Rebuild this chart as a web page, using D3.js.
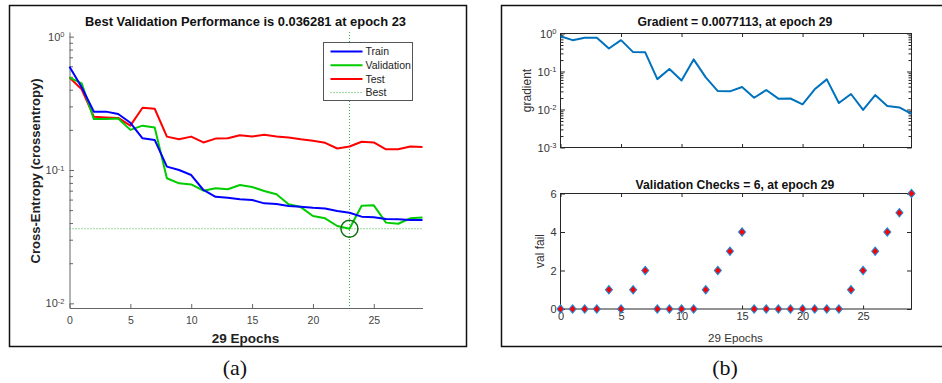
<!DOCTYPE html>
<html>
<head>
<meta charset="utf-8">
<script src="https://cdn.jsdelivr.net/npm/d3@7"></script>
<style>
  body { margin: 0; background: #fff; }
  svg { display: block; font-family: "Liberation Sans", Arial, sans-serif; }
</style>
</head>
<body>
<svg id="chart" width="942" height="383"></svg>
<script>
// Training record plots (performance, gradient, validation checks)

const epochs = [0,1,2,3,4,5,6,7,8,9,10,11,12,13,14,15,16,17,18,19,20,21,22,23,24,25,26,27,28,29];

const trainPerf = [0.596,0.417,0.274,0.274,0.263,0.226,0.173,0.168,0.106,0.100,0.0917,0.0708,0.063,0.062,0.0603,0.0596,
  0.0562,0.0556,0.0537,0.053,0.0521,0.0515,0.0493,0.0478,0.0447,0.0443,0.0429,0.0427,0.0422,0.0422];
const valPerf = [0.493,0.447,0.241,0.241,0.243,0.200,0.215,0.208,0.0867,0.0794,0.078,0.070,0.073,0.0717,0.0772,0.0746,
  0.0696,0.0657,0.0553,0.0527,0.0452,0.0434,0.038,0.036281,0.054,0.0543,0.0403,0.0395,0.0434,0.0441];
const testPerf = [0.493,0.403,0.251,0.248,0.246,0.215,0.293,0.288,0.178,0.170,0.178,0.161,0.172,0.173,0.182,0.178,
  0.184,0.178,0.175,0.170,0.166,0.160,0.145,0.150,0.163,0.161,0.143,0.143,0.150,0.149];

const gradient = [0.85,0.668,0.77,0.77,0.404,0.668,0.324,0.32,0.063,0.116,0.058,0.208,0.07,0.0306,0.030,0.039,
  0.0204,0.0326,0.0193,0.0195,0.0137,0.034,0.062,0.0148,0.0256,0.0098,0.024,0.0124,0.0113,0.0077113];
const valFail = [0,0,0,0,1,0,1,2,0,0,0,0,1,2,3,4,0,0,0,0,0,0,0,0,1,2,3,4,5,6];

const bestEpoch = 23;
const bestPerf = 0.036281;
const xTicks = [0,5,10,15,20,25];
const perfTicks = [0.01, 0.1, 1];
const gradTicks = [0.001, 0.01, 0.1, 1];
const failTicks = [0,2,4,6];

const seriesNames = ['Train', 'Validation', 'Test'];
const seriesColors = ['#0000ff', '#00cc00', '#ff0000'];

const svg = d3.select('#chart');

// panel frames
svg.append('rect')
  .attr('x', 9.5).attr('y', 5.5).attr('width', 457).attr('height', 341)
  .attr('fill', 'none').attr('stroke', '#111').attr('stroke-width', 1.5);
svg.append('rect')
  .attr('x', 501.5).attr('y', 5.5).attr('width', 460).attr('height', 341)
  .attr('fill', 'none').attr('stroke', '#111').attr('stroke-width', 1.5);

// superscript labels for log axes
function powerLabels(sel, scale) {
  sel.selectAll('.tick text').each(function(d) {
    const t = d3.select(this);
    t.text(null);
    const e = Math.round(Math.log10(d));
    if (Math.abs(Math.log10(d) - e) > 1e-6) return;
    t.append('tspan').text('10');
    t.append('tspan').attr('dy', '-0.45em').style('font-size', '7.5px').text(e);
  });
}

// ---------------- (a) performance ----------------
const xPerf = d3.scaleLinear().domain([0, 29]).range([69.5, 422.5]);
const yPerf = d3.scaleLog().domain([Math.pow(10, -2.035), Math.pow(10, 0.035)]).range([308, 32]);

const gA = svg.append('g');

gA.append('g')
  .attr('transform', 'translate(0,308)')
  .call(d3.axisBottom(xPerf).tickValues(xTicks).tickSizeInner(-4).tickSizeOuter(0).tickPadding(9))
  .call(g => g.select('.domain').attr('stroke', '#666'))
  .call(g => g.selectAll('.tick line').attr('stroke', '#666'))
  .call(g => g.selectAll('.tick text').attr('fill', '#444').style('font-size', '10.5px').style('font-family', 'Liberation Sans'));

const perfMinor = yPerf.ticks().filter(d => d >= 0.01 && d <= 1);
gA.append('g')
  .attr('transform', 'translate(69.5,0)')
  .call(d3.axisLeft(yPerf).tickValues(perfMinor).tickSizeInner(-3.5).tickSizeOuter(0).tickPadding(5))
  .call(g => g.select('.domain').attr('stroke', '#666'))
  .call(g => g.selectAll('.tick line').attr('stroke', '#666').attr('x2', d => perfTicks.includes(d) ? 4.5 : 3.5))
  .call(g => g.selectAll('.tick text').attr('fill', '#444').style('font-size', '11px').style('font-family', 'Liberation Sans'))
  .call(g => powerLabels(g, yPerf));

// best lines
gA.append('line')
  .attr('x1', xPerf(bestEpoch)).attr('x2', xPerf(bestEpoch))
  .attr('y1', yPerf.range()[1]).attr('y2', yPerf.range()[0])
  .attr('stroke', '#3cb043').attr('stroke-width', 1).attr('stroke-dasharray', '1,2');
gA.append('line')
  .attr('x1', xPerf(0)).attr('x2', xPerf(29))
  .attr('y1', yPerf(bestPerf)).attr('y2', yPerf(bestPerf))
  .attr('stroke', '#3cb043').attr('stroke-width', 1).attr('stroke-dasharray', '1,2');

const perfLine = d3.line()
  .x((d, i) => xPerf(epochs[i]))
  .y(d => yPerf(d));

[testPerf, valPerf, trainPerf].forEach((series, k) => {
  const color = [seriesColors[2], seriesColors[1], seriesColors[0]][k];
  gA.append('path')
    .datum(series)
    .attr('d', perfLine)
    .attr('fill', 'none')
    .attr('stroke', color)
    .attr('stroke-width', 2)
    .attr('stroke-linejoin', 'round');
});

gA.append('circle')
  .attr('cx', xPerf(bestEpoch)).attr('cy', yPerf(bestPerf)).attr('r', 8.5)
  .attr('fill', 'none').attr('stroke', '#0a6e0a').attr('stroke-width', 1.5);

// legend
const legend = gA.append('g').attr('transform', 'translate(323.5,42.5)');
legend.append('rect')
  .attr('width', 89).attr('height', 58)
  .attr('fill', '#fff').attr('stroke', '#555').attr('stroke-width', 1);
seriesNames.concat(['Best']).forEach((name, i) => {
  const y = 9 + i * 13.7;
  const ln = legend.append('line')
    .attr('x1', 7).attr('x2', 39).attr('y1', y).attr('y2', y);
  if (i < 3) {
    ln.attr('stroke', seriesColors[i]).attr('stroke-width', 2);
  } else {
    ln.attr('stroke', '#3cb043').attr('stroke-width', 1).attr('stroke-dasharray', '1,2');
  }
  legend.append('text')
    .attr('x', 42).attr('y', y).attr('dy', '0.35em')
    .style('font-size', '10.5px').attr('fill', '#222')
    .text(name);
});

// titles and labels
gA.append('text')
  .attr('x', 245.5).attr('y', 26)
  .attr('text-anchor', 'middle')
  .style('font-size', '12.9px').style('font-weight', 'bold').attr('fill', '#111')
  .text(`Best Validation Performance is ${bestPerf} at epoch ${bestEpoch}`);
gA.append('text')
  .attr('transform', 'translate(40,171) rotate(-90)')
  .attr('text-anchor', 'middle')
  .style('font-size', '13px').style('font-weight', 'bold').attr('fill', '#222')
  .text('Cross-Entropy  (crossentropy)');
gA.append('text')
  .attr('x', 245.5).attr('y', 343)
  .attr('text-anchor', 'middle')
  .style('font-size', '13.5px').style('font-weight', 'bold').attr('fill', '#222')
  .text('29 Epochs');

// ---------------- (b) gradient + validation checks ----------------
const xRight = d3.scaleLinear().domain([0, 29]).range([560.5, 911.5]);
const yGrad = d3.scaleLog().domain([0.001, 1]).range([147.5, 33.5]);
const yFail = d3.scaleLinear().domain([0, 6]).range([309, 193.5]);

function boxAxes(g, yScale, top, bottom, yValues, yMajor, showXLabels, logLabels) {
  g.append('rect')
    .attr('x', xRight.range()[0]).attr('y', top)
    .attr('width', xRight.range()[1] - xRight.range()[0]).attr('height', bottom - top)
    .attr('fill', 'none').attr('stroke', '#262626').attr('stroke-width', 1);

  const bx = g.append('g')
    .attr('transform', `translate(0,${bottom})`)
    .call(d3.axisBottom(xRight).tickValues(xTicks).tickSizeInner(-3.5).tickSizeOuter(0).tickPadding(3)
      .tickFormat(showXLabels ? d3.format('d') : ''));
  g.append('g')
    .attr('transform', `translate(0,${top})`)
    .call(d3.axisTop(xRight).tickValues(xTicks).tickSizeInner(-3.5).tickSizeOuter(0).tickFormat(''));

  const ly = g.append('g')
    .attr('transform', `translate(${xRight.range()[0]},0)`)
    .call(d3.axisLeft(yScale).tickValues(yValues).tickSizeInner(-3.5).tickSizeOuter(0).tickPadding(4)
      .tickFormat(logLabels ? null : d3.format('d')));
  const ry = g.append('g')
    .attr('transform', `translate(${xRight.range()[1]},0)`)
    .call(d3.axisRight(yScale).tickValues(yValues).tickSizeInner(-3.5).tickSizeOuter(0).tickFormat(''));

  [bx, ly, ry, g.selectAll('g')].forEach(a => {
    a.selectAll('.domain').remove();
    a.selectAll('.tick line').attr('stroke', '#262626');
    a.selectAll('.tick text').attr('fill', '#333').style('font-size', '11px').style('font-family', 'Liberation Sans');
  });
  ly.selectAll('.tick line').attr('x2', d => yMajor.includes(d) ? 4.5 : 3);
  ry.selectAll('.tick line').attr('x2', d => yMajor.includes(d) ? -4.5 : -3);
  if (logLabels) powerLabels(ly, yScale);
}

const gB = svg.append('g');
const gradMinor = yGrad.ticks().filter(d => d >= 0.001 && d <= 1);
boxAxes(gB, yGrad, 33.5, 147.5, gradMinor, gradTicks, false, true);

gB.append('path')
  .datum(gradient)
  .attr('d', d3.line().x((d, i) => xRight(epochs[i])).y(d => yGrad(d)))
  .attr('fill', 'none')
  .attr('stroke', '#0072bd')
  .attr('stroke-width', 2)
  .attr('stroke-linejoin', 'round');

gB.append('text')
  .attr('x', 735).attr('y', 26)
  .attr('text-anchor', 'middle')
  .style('font-size', '12.2px').style('font-weight', 'bold').attr('fill', '#111')
  .text(`Gradient = ${gradient[29]}, at epoch 29`);
gB.append('text')
  .attr('transform', 'translate(531,90.5) rotate(-90)')
  .attr('text-anchor', 'middle')
  .style('font-size', '12px').attr('fill', '#333')
  .text('gradient');

const gC = svg.append('g');
boxAxes(gC, yFail, 193.5, 309, failTicks, failTicks, true, false);

const diamond = d3.symbol().type(d3.symbolSquare).size(34);
gC.selectAll('.mark')
  .data(valFail)
  .enter()
  .append('path')
  .attr('class', 'mark')
  .attr('d', diamond)
  .attr('transform', (d, i) => `translate(${xRight(epochs[i])},${yFail(d)}) scale(0.85,1) rotate(45)`)
  .attr('fill', '#ff0000')
  .attr('stroke', '#1f86d6')
  .attr('stroke-width', 1.1);

gC.append('text')
  .attr('x', 735).attr('y', 188.5)
  .attr('text-anchor', 'middle')
  .style('font-size', '12.2px').style('font-weight', 'bold').attr('fill', '#111')
  .text(`Validation Checks = ${valFail[29]}, at epoch 29`);
gC.append('text')
  .attr('transform', 'translate(544,251) rotate(-90)')
  .attr('text-anchor', 'middle')
  .style('font-size', '12px').attr('fill', '#333')
  .text('val fail');
gC.append('text')
  .attr('x', 735.5).attr('y', 342)
  .attr('text-anchor', 'middle')
  .style('font-size', '11.6px').attr('fill', '#333')
  .text('29 Epochs');

// captions
svg.append('text')
  .attr('x', 235).attr('y', 375)
  .attr('text-anchor', 'middle')
  .style('font-family', '"Liberation Serif", "Times New Roman", serif').style('font-size', '22px')
  .attr('fill', '#111')
  .text('(a)');
svg.append('text')
  .attr('x', 725).attr('y', 375)
  .attr('text-anchor', 'middle')
  .style('font-family', '"Liberation Serif", "Times New Roman", serif').style('font-size', '22px')
  .attr('fill', '#111')
  .text('(b)');
</script>
</body>
</html>
